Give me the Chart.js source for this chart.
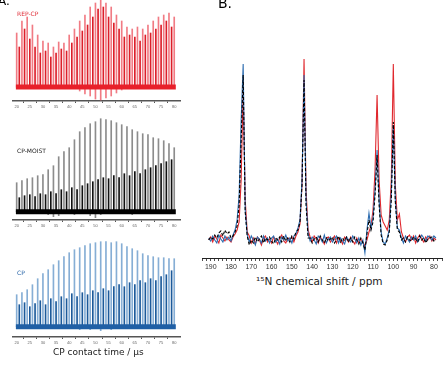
<!DOCTYPE html>
<html lang="en">
<head>
<meta charset="UTF-8">
<title>CP contact time / 15N spectra</title>
<style>
    body {
        margin: 0;
        background: #fff;
        font-family: "DejaVu Sans", Verdana, sans-serif;
    }
    #page {
        position: relative;
        width: 444px;
        height: 368px;
        overflow: hidden;
    }
    canvas, .lab {
        position: absolute;
    }
    .lab {
        white-space: nowrap;
        line-height: 1;
    }
</style>
<script src="https://cdn.jsdelivr.net/npm/chart.js"></script>
</head>
<body>
<div id="page">
    <canvas id="repcp" width="190" height="112" style="left:0;top:0"></canvas>
    <canvas id="moist" width="190" height="118" style="left:0;top:113px"></canvas>
    <canvas id="cp" width="190" height="118" style="left:0;top:230px"></canvas>
    <canvas id="shift" width="254" height="275" style="left:190px;top:0"></canvas>

    <div class="lab" style="left:-2px;top:-5px;font-size:12px">A.</div>
    <div class="lab" style="left:218px;top:-4px;font-size:14px">B.</div>
    <div class="lab" style="left:17px;top:11px;font-size:6px;color:#e0303a">REP-CP</div>
    <div class="lab" style="left:17px;top:148px;font-size:6px;color:#222">CP-MOIST</div>
    <div class="lab" style="left:17px;top:270px;font-size:6px;color:#2a66a8">CP</div>
    <div class="lab" style="left:53px;top:348px;font-size:9px;color:#222">CP contact time / μs</div>
    <div class="lab" style="left:256px;top:276px;font-size:10.5px;color:#222">¹⁵N chemical shift / ppm</div>
</div>

<script>
// contact times (us) for the two peaks drawn in each slot
var tallTimes = [20, 22, 24, 26, 28, 30, 32, 34, 36, 38, 40, 42, 44, 46, 48, 50, 52, 54, 56, 58, 60, 62, 64, 66, 68, 70, 72, 74, 76, 78, 80];
var midTimes = [21, 23, 25, 27, 29, 31, 33, 35, 37, 39, 41, 43, 45, 47, 49, 51, 53, 55, 57, 59, 61, 63, 65, 67, 69, 71, 73, 75, 77, 79];
var contactTicks = [20, 25, 30, 35, 40, 45, 50, 55, 60, 65, 70, 75, 80];

// REP-CP
var repTall = [54, 66, 70, 62, 52, 46, 44, 40, 45, 44, 52, 58, 66, 72, 80, 84, 87, 84, 80, 72, 66, 60, 58, 60, 58, 62, 66, 70, 72, 74, 70];
var repMid = [40, 58, 48, 40, 34, 36, 30, 34, 38, 36, 44, 50, 56, 62, 70, 78, 80, 70, 64, 58, 50, 52, 50, 46, 52, 54, 58, 62, 66, 60];
var repDip = [0, 0, 0, 0, 0, 0, 0, 0, 0, 0, 0, 0, -4, -7, -9, -12, -13, -11, -9, -6, -3, 0, 0, 0, 0, 0, 0, 0, 0, 0, 0];

// CP-MOIST
var moistTall = [29, 31, 33, 34, 36, 37, 42, 46, 55, 60, 64, 72, 80, 84, 88, 90, 93, 92, 91, 89, 87, 85, 82, 80, 78, 77, 74, 73, 71, 68, 64];
var moistMid = [14, 16, 17, 15, 18, 17, 20, 18, 22, 20, 24, 22, 26, 28, 30, 32, 34, 33, 36, 34, 38, 36, 40, 38, 42, 44, 46, 48, 50, 52];
var moistDip = [0, 0, 0, 0, 0, 0, -3, -5, -4, 0, 0, -3, 0, 0, -4, -6, -3, 0, 0, -2, 0, 0, -3, 0, 0, 0, -2, 0, 0, 0, 0];

// CP
var cpTall = [32, 34, 37, 42, 48, 53, 57, 62, 66, 70, 74, 77, 79, 81, 83, 84, 85, 85, 84, 85, 83, 80, 78, 76, 73, 71, 70, 69, 69, 68, 68];
var cpMid = [22, 24, 20, 23, 26, 22, 28, 25, 30, 28, 33, 30, 34, 32, 36, 34, 38, 36, 40, 42, 40, 44, 42, 46, 44, 48, 46, 50, 52, 56];
var cpDip = [0, 0, 0, 0, 0, 0, 0, 0, 0, -2, 0, 0, -3, 0, -3, 0, -4, 0, -3, 0, 0, -2, 0, 0, 0, 0, 0, 0, 0, 0, 0];

// 15N spectra, ppm axis and intensities
var ppm = [191, 190, 189, 188, 187, 186, 185, 184, 183, 182,
    181, 180, 179, 178, 177, 176, 175, 174, 173, 172,
    171, 170, 169, 168, 167, 166, 165, 164, 163, 162,
    161, 160, 159, 158, 157, 156, 155, 154, 153, 152,
    151, 150, 149, 148, 147, 146, 145, 144, 143, 142,
    141, 140, 139, 138, 137, 136, 135, 134, 133, 132,
    131, 130, 129, 128, 127, 126, 125, 124, 123, 122,
    121, 120, 119, 118, 117, 116, 115, 114, 113, 112,
    111, 110, 109, 108, 107, 106, 105, 104, 103, 102,
    101, 100, 99, 98, 97, 96, 95, 94, 93, 92,
    91, 90, 89, 88, 87, 86, 85, 84, 83, 82,
    81, 80, 79];
var ppmTicks = [190, 180, 170, 160, 150, 140, 130, 120, 110, 100, 90, 80];

var specRep = [0, 3, -2, 4, 1, -3, 5, 2, -1, 3,
    0, -2, 3, 6, 10, 18, 60, 150, 40, 8,
    4, -3, 2, -4, 3, 0, -5, 2, 4, -2,
    1, -3, 3, 0, -4, 2, 5, -1, -3, 2,
    0, 3, -2, 4, 8, 16, 55, 181, 50, 10,
    3, -2, 4, 1, -3, 3, 0, -4, 2, 3,
    -2, 1, 4, -3, 2, 0, -4, 3, 1, -2,
    3, -1, -4, 2, -3, 1, -2, -6, 0, 8,
    14, 30, 70, 145, 60, 25, 18, 14, 10, 20,
    60, 176, 55, 20, 26, 8, 2, -2, 3, 5,
    0, 4, -3, 2, 5, 1, -2, 3, 0, 4,
    -1, 2, 0];
var specCp = [2, -1, 4, 0, -3, 5, 1, -2, 4, 0,
    3, -1, 5, 10, 20, 45, 120, 176, 30, 5,
    -2, 4, 0, -5, 3, 1, -3, 4, -1, 2,
    -3, 2, 4, -2, 1, -4, 3, 0, 5, -1,
    2, -3, 4, 6, 12, 20, 60, 165, 40, 6,
    -1, 3, 0, -4, 4, 2, -2, 5, -3, 1,
    3, -2, 1, 4, -3, 2, -1, -4, 3, 0,
    -2, 4, 1, -3, 2, -5, 0, -13, 10, 27,
    12, 22, 50, 90, 40, 8, -2, -4, 2, 10,
    45, 115, 40, 12, 10, 2, -3, 4, 1, -2,
    3, 0, 4, -2, 1, 5, 2, -1, 4, 3,
    0, 4, 2];
var specMoist = [0, 3, 1, 5, 2, 7, 9, 4, 10, 6,
    8, 2, 4, 8, 14, 35, 100, 165, 28, 4,
    -5, 0, -3, 3, -2, 1, 4, -3, 2, 0,
    3, -1, -4, 2, 0, 3, -2, 4, -1, 2,
    -2, 4, 1, 8, 10, 18, 55, 160, 35, 2,
    2, -3, 1, 3, -2, 4, 0, -3, 2, -1,
    1, 3, -3, 0, 4, -2, 2, -1, 3, -2,
    2, -2, 3, 0, -4, 2, -3, -10, 6, 20,
    10, 18, 45, 85, 35, 5, -4, -5, 0, 8,
    40, 118, 38, 10, 8, 0, 2, -2, 3, 0,
    -1, 3, 1, -2, 4, 0, 2, -3, 1, 2,
    3, -1, 1];

function pairs(xs, ys) {
    return xs.map(function (x, i) { return { x: x, y: ys[i] }; });
}

function spikePanel(id, tall, mid, dip, colTall, colMid, colBase, ymin, ymax) {
    var ctx = document.getElementById(id).getContext('2d');
    var first = tallTimes[0], last = tallTimes[tallTimes.length - 1];
    new Chart(ctx, {
        type: 'bar',
        data: {
            datasets: [
                {
                    type: 'line',
                    data: [{ x: first - 0.3, y: 0 }, { x: last + 0.6, y: 0 }],
                    borderColor: colBase,
                    borderWidth: 5,
                    pointRadius: 0,
                    order: 0
                },
                { data: pairs(tallTimes, tall), backgroundColor: colTall, barThickness: 1, order: 2 },
                { data: pairs(midTimes, mid), backgroundColor: colMid, barThickness: 1, order: 1 },
                { data: pairs(tallTimes, dip), backgroundColor: colTall, barThickness: 1, order: 1 }
            ]
        },
        options: {
            responsive: false,
            animation: false,
            layout: { padding: { left: 13, right: 10, top: 0, bottom: 0 } },
            plugins: { legend: { display: false }, tooltip: { enabled: false } },
            datasets: { bar: { grouped: false } },
            scales: {
                x: {
                    type: 'linear',
                    min: 18.6,
                    max: 82.2,
                    offset: false,
                    afterBuildTicks: function (s) {
                        s.ticks = contactTicks.map(function (v) { return { value: v }; });
                    },
                    afterFit: function (s) { s.height = 11; s.paddingLeft = 0; s.paddingRight = 0; },
                    border: { color: '#555', width: 1.5 },
                    grid: { drawOnChartArea: false, tickLength: 2, color: '#555' },
                    ticks: {
                        autoSkip: false,
                        maxRotation: 0,
                        padding: 1,
                        color: '#666',
                        font: { size: 4, family: 'Liberation Sans' }
                    }
                },
                y: { display: false, min: ymin, max: ymax }
            }
        }
    });
}

spikePanel('repcp', repTall, repMid, repDip, 'rgba(238,100,110,0.85)', '#dc1f2a', '#e8202a', -14, 87);
spikePanel('moist', moistTall, moistMid, moistDip, '#8c8c8c', '#111', '#000', -8.3, 98.7);
spikePanel('cp', cpTall, cpMid, cpDip, '#86aed5', '#1c5a9a', '#1f5fa5', -10.3, 96.7);

// right panel: overlaid 15N spectra
new Chart(document.getElementById('shift').getContext('2d'), {
    type: 'line',
    data: {
        datasets: [
            { label: 'CP-MOIST', data: pairs(ppm, specMoist), borderColor: '#000', borderDash: [3, 2], borderWidth: 1.1 },
            { label: 'CP', data: pairs(ppm, specCp), borderColor: '#2e6db0', borderWidth: 1.1 },
            { label: 'REP-CP', data: pairs(ppm, specRep), borderColor: '#e0282e', borderWidth: 1.1 }
        ]
    },
    options: {
        responsive: false,
        animation: false,
        layout: { padding: { left: 12.6, right: 2, top: 40, bottom: 0 } },
        elements: { point: { radius: 0 }, line: { tension: 0 } },
        plugins: { legend: { display: false }, tooltip: { enabled: false } },
        scales: {
            x: {
                type: 'linear',
                reverse: true,
                min: 76,
                max: 194,
                afterBuildTicks: function (s) {
                    var t = [];
                    for (var v = 194; v >= 76; v -= 2) t.push({ value: v });
                    s.ticks = t;
                },
                afterFit: function (s) { s.height = 17; s.paddingLeft = 0; s.paddingRight = 0; },
                border: { color: '#222', width: 1 },
                grid: { drawOnChartArea: false, tickLength: 3, color: '#222', tickWidth: 0.8 },
                ticks: {
                    autoSkip: false,
                    maxRotation: 0,
                    padding: 2,
                    color: '#333',
                    font: { size: 7, family: 'Liberation Sans' },
                    callback: function (v) { return ppmTicks.indexOf(v) >= 0 ? String(v) : ''; }
                }
            },
            y: { display: false, min: -18, max: 200 }
        }
    }
});
</script>
</body>
</html>
